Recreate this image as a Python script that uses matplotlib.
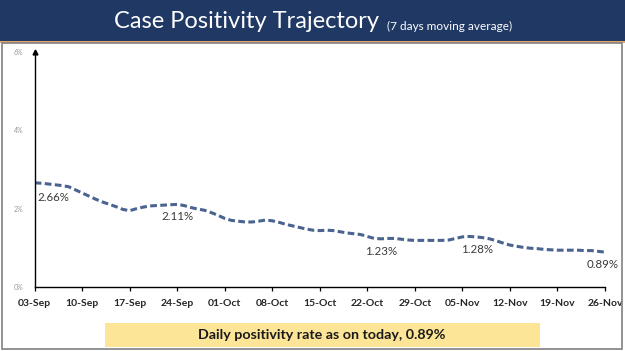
import matplotlib
matplotlib.use("Agg")
import matplotlib.pyplot as plt
from matplotlib.patches import Rectangle
import numpy as np

plt.rcParams["font.family"] = ["Lato", "DejaVu Sans"]

# daily 7-day moving average of case positivity (%), 03-Sep .. 26-Nov
positivity = [
    2.66, 2.65, 2.63, 2.61, 2.59, 2.56, 2.48, 2.40, 2.32, 2.24,
    2.17, 2.11, 2.05, 1.98, 1.95, 2.00, 2.04, 2.07, 2.08, 2.09,
    2.10, 2.11, 2.08, 2.03, 1.99, 1.96, 1.90, 1.83, 1.75, 1.70,
    1.68, 1.66, 1.66, 1.68, 1.71, 1.69, 1.65, 1.60, 1.56, 1.52,
    1.48, 1.45, 1.44, 1.45, 1.44, 1.41, 1.38, 1.36, 1.34, 1.29,
    1.24, 1.23, 1.24, 1.24, 1.22, 1.20, 1.19, 1.19, 1.19, 1.19,
    1.19, 1.20, 1.24, 1.28, 1.29, 1.28, 1.26, 1.23, 1.18, 1.12,
    1.07, 1.04, 1.01, 0.99, 0.98, 0.96, 0.95, 0.94, 0.94, 0.94,
    0.94, 0.93, 0.93, 0.91, 0.89,
]
tick_labels = ["03-Sep", "10-Sep", "17-Sep", "24-Sep", "01-Oct", "08-Oct", "15-Oct",
               "22-Oct", "29-Oct", "05-Nov", "12-Nov", "19-Nov", "26-Nov"]
y_ticks = [0, 2, 4, 6]
# (day index, value text, x offset in days, y position)
callouts = [(0, "2.66%", 2.7, 2.29), (21, "2.11%", 0, 1.81), (51, "1.23%", 0, 0.91),
            (63, "1.28%", 2.1, 0.97), (84, "0.89%", 0, 0.57)]

W, H = 625, 351
fig = plt.figure(figsize=(W / 100, H / 100), dpi=100)
fig.patch.set_facecolor("white")

# header band
fig.patches.append(Rectangle((0, 1 - 41 / H), 1, 41 / H, transform=fig.transFigure,
                             facecolor="#1f3864", edgecolor="none", zorder=0))
fig.patches.append(Rectangle((0, 1 - 43 / H), 1, 2 / H, transform=fig.transFigure,
                             facecolor="#e3a468", edgecolor="none", zorder=0))
# body border
fig.patches.append(Rectangle((2 / W, 2 / H), 620 / W, (H - 45) / H, transform=fig.transFigure,
                             facecolor="none", edgecolor="#808080", lw=1.2, zorder=0))

fig.text(114 / W, 1 - 28.5 / H, "Case Positivity Trajectory", color="white",
         fontsize=17, va="baseline", ha="left")
fig.text(387 / W, 1 - 29.5 / H, "(7 days moving average)", color="white",
         fontsize=8.5, va="baseline", ha="left")

ax = fig.add_axes([34.7 / W, (H - 287) / H, (605 - 34.7) / W, (287 - 52) / H])
days = np.arange(len(positivity))
ax.plot(days, positivity, color="#4a6390", lw=2.2, linestyle=(0, (2.2, 1.1)),
        solid_capstyle="butt")
ax.set_xlim(0, 84)
ax.set_ylim(0, 6)
ax.set_xticks(np.arange(0, 85, 7))
ax.set_xticklabels(tick_labels, fontsize=7.5, fontweight="bold", color="#262626")
ax.set_yticks(y_ticks)
ax.set_yticklabels([f"{v}%" for v in y_ticks], fontsize=5, color="#999999")
ax.tick_params(axis="x", length=3, width=0.9, pad=6)
ax.tick_params(axis="y", length=0, pad=8)
for side in ["top", "right"]:
    ax.spines[side].set_visible(False)
for side in ["left", "bottom"]:
    ax.spines[side].set_linewidth(1.0)
    ax.spines[side].set_color("black")
ax.plot([0], [6], marker="^", color="black", markersize=3.5, clip_on=False)

for idx, txt, dx, yv in callouts:
    ha = "right" if idx == 84 else "center"
    x = idx + dx + (2.0 if idx == 84 else 0)
    ax.text(x, yv, txt, fontsize=8.3, color="#3a3a3a", ha=ha, va="center")

# bottom note box
fig.patches.append(Rectangle((105 / W, (H - 347) / H), 435 / W, 24.5 / H,
                             transform=fig.transFigure, facecolor="#fde598",
                             edgecolor="none", zorder=1))
fig.text(322 / W, (H - 335) / H, "Daily positivity rate as on today, 0.89%",
         fontsize=10.3, fontweight="bold", color="#1a1a1a", ha="center", va="center")

fig.savefig("out.png", dpi=100, facecolor="white")
